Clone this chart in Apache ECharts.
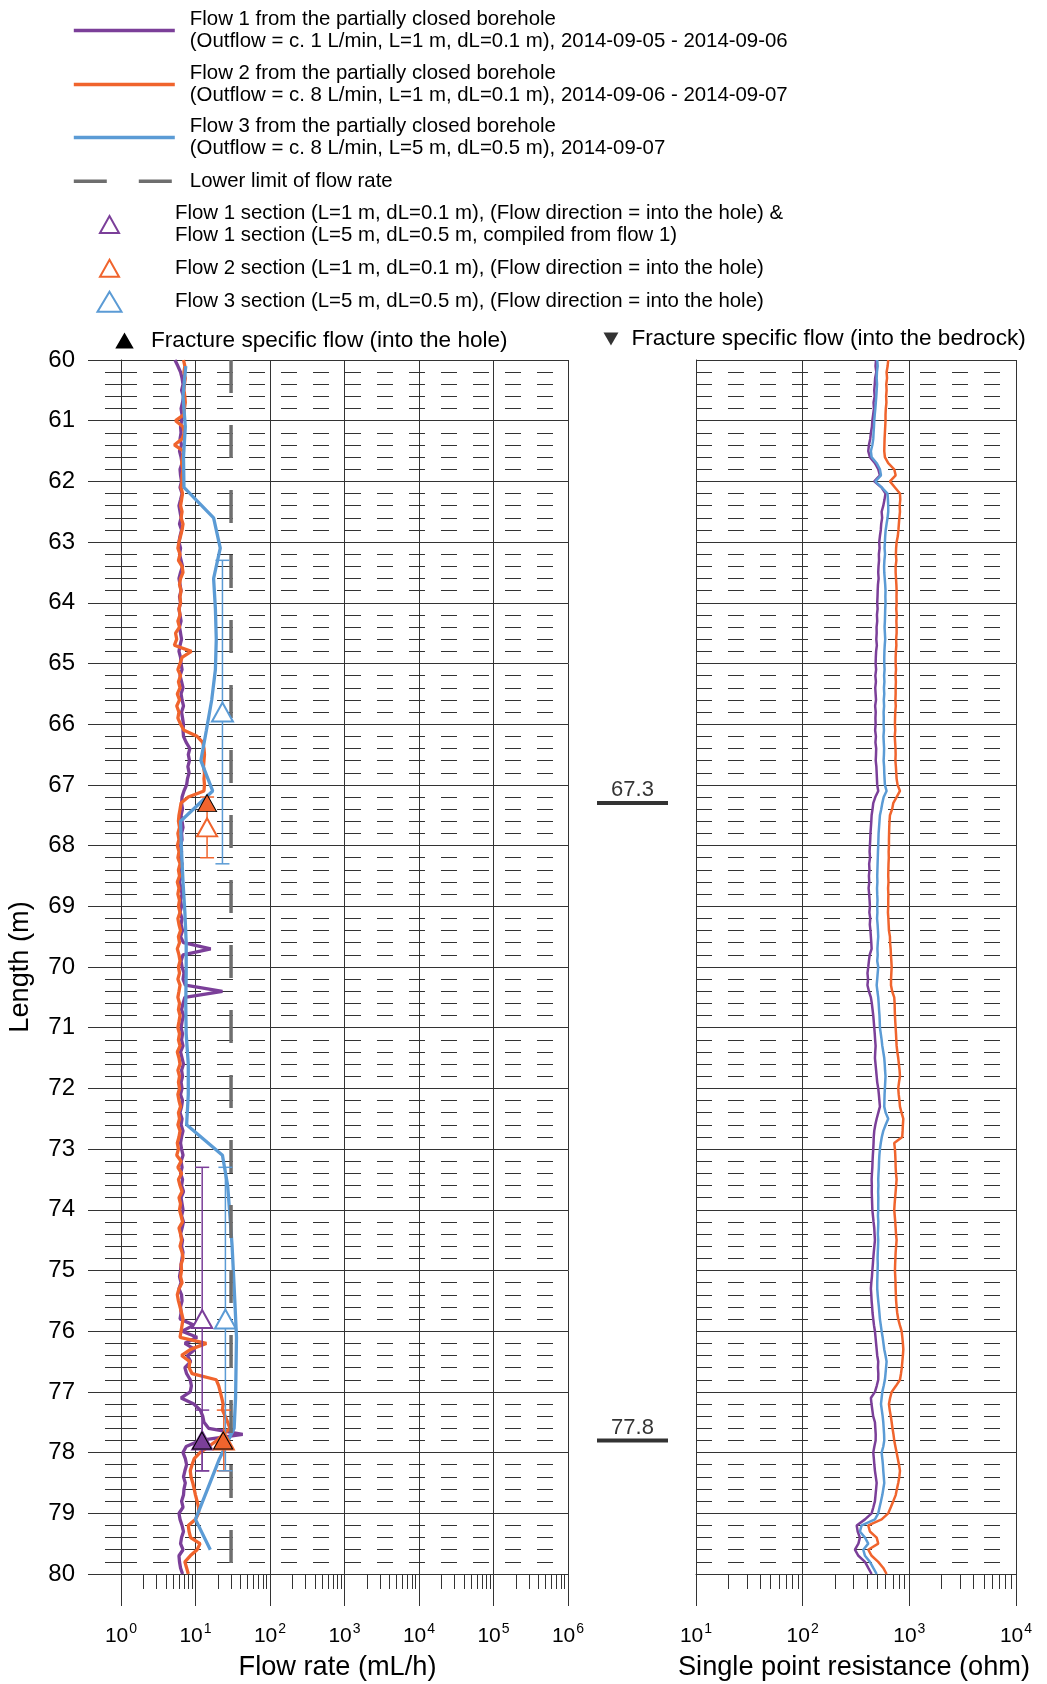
<!DOCTYPE html>
<html><head><meta charset="utf-8">
<script src="https://cdn.jsdelivr.net/npm/echarts@6/dist/echarts.min.js"></script>
<style>html,body{margin:0;padding:0;background:#fff}#c{width:1047px;height:1684px}</style>
</head><body><div id="c"></div>
<script>
const FONT = "'Liberation Sans', Arial, sans-serif";
const AX = '#333333';
const PURPLE = '#7B3F99', ORANGE = '#F0642D', BLUE = '#5B9BD5', GREY = '#6E6E6E';

// ---- depth sampling of the 0.1 m logs (60.0 ... 80.0 m)
const depthFirst = 60.0, depthStepM = 0.1;

// ---- Flow rate (mL/h), flow 1 (purple), every 0.1 m from 60.0 m
const flow1 = [
 5.3,5.8,6.3,6.6,6.8,6.5,6.9,6.7,6.4,6.6,
 6.5,6.3,6.4,6.2,6.5,6.1,6.4,6.6,6.2,6.3,
 6.5,6.2,6.6,6.3,6.0,6.2,6.4,6.1,6.5,6.2,
 6.0,6.3,6.1,6.4,6.7,6.3,6.0,6.2,6.4,6.1,
 6.3,6.0,6.2,6.4,6.1,6.3,6.5,6.2,6.0,6.3,
 6.4,6.6,6.2,6.5,6.8,6.4,6.6,6.9,6.5,6.7,
 6.9,6.8,6.9,7.5,8.4,8.0,8.3,7.9,8.2,7.8,
 7.6,7.0,6.6,6.5,6.7,6.4,6.6,6.8,6.5,6.6,
 6.3,6.5,6.2,6.6,6.3,6.5,6.1,6.4,6.6,6.3,
 6.5,6.2,6.6,6.4,6.7,6.3,6.9,16.0,6.8,6.4,
 6.6,7.0,6.8,7.3,23.0,7.2,6.8,6.5,6.9,6.6,
 6.4,6.7,6.5,6.8,6.3,6.6,6.9,6.5,6.7,6.4,
 6.6,6.3,6.7,6.5,6.2,6.6,6.4,6.8,6.5,6.3,
 6.5,6.8,6.4,6.6,6.3,6.7,6.5,6.9,6.4,6.6,
 6.8,6.5,6.9,6.6,6.3,6.7,6.5,6.8,6.6,6.4,
 6.3,6.1,6.4,6.0,6.5,6.6,6.3,6.4,6.2,9.5,
 6.6,10.5,7.2,9.8,7.8,8.6,7.2,7.6,8.5,8.8,
 8.5,6.4,9.5,11.6,12.5,13.0,15.0,43.0,11.5,7.5,
 6.8,7.3,7.6,7.2,6.9,7.3,7.0,6.9,6.5,6.8,
 6.0,6.2,6.6,6.9,6.5,6.3,6.8,6.0,6.1,6.3,
 6.7
];
// ---- flow 2 (orange), every 0.1 m from 60.0 m
const flow2 = [
 6.9,7.2,7.0,7.3,7.1,7.0,7.2,7.3,7.1,7.0,
 5.4,6.8,7.1,6.6,5.2,6.9,6.7,6.5,6.8,6.6,
 6.6,6.4,6.7,6.5,6.3,6.6,6.4,6.8,6.6,6.3,
 6.0,5.8,6.2,5.9,6.6,6.8,6.3,6.1,6.4,6.2,
 6.3,6.0,6.2,5.8,6.1,5.4,5.6,5.2,8.8,6.6,
 6.2,5.8,6.3,5.9,6.2,5.7,6.1,5.6,6.0,5.8,
 6.3,7.0,10.5,12.5,13.0,13.2,13.0,12.8,13.2,13.0,
 13.2,13.0,8.0,6.4,6.2,6.0,5.9,6.1,5.8,6.0,
 5.7,6.0,5.8,6.2,5.9,6.1,5.7,6.0,5.8,6.1,
 5.9,6.2,5.8,6.0,6.3,5.9,6.1,5.7,6.0,6.2,
 5.9,6.1,5.8,6.2,6.0,5.8,6.1,5.9,6.2,6.0,
 5.8,6.1,5.9,6.2,5.7,6.0,6.2,5.8,6.1,5.9,
 6.1,5.8,6.0,6.3,5.9,6.1,5.8,6.2,6.0,5.7,
 5.9,5.6,6.4,5.8,6.5,5.9,6.2,6.6,6.0,6.3,
 6.1,6.4,6.7,6.0,6.3,6.5,6.2,6.6,6.8,6.4,
 6.5,6.3,6.6,6.0,5.7,5.9,6.2,6.5,6.8,6.6,
 6.4,6.2,14.0,8.6,6.5,8.4,8.2,9.0,19.0,20.5,
 21.5,22.5,23.5,23.0,25.0,27.0,29.0,23.5,19.5,15.0,
 11.5,9.6,9.0,8.5,8.7,9.2,9.6,10.0,10.5,11.0,
 11.0,10.0,8.0,8.2,8.6,11.5,10.5,8.5,7.2,7.6,
 8.0
];
// ---- flow 3 (blue), 5 m section, dL = 0.5 m
const flow3Depths = [60.1,60.6,61.1,61.6,62.1,62.6,63.1,63.6,64.1,64.6,65.1,65.6,66.1,66.6,67.1,67.6,68.1,68.6,69.1,69.6,
 70.1,70.6,71.1,71.6,72.1,72.6,73.1,73.6,74.1,74.6,75.1,75.6,76.1,76.6,77.1,77.6,78.1,78.6,79.1,79.6];
const flow3 = [7.4,6.8,7.3,6.9,7.0,17.5,21.5,17.5,18.5,19.0,18.5,16.5,14.0,11.8,17.0,6.3,6.5,6.8,7.2,7.5,
 7.5,7.4,7.5,8.0,8.0,7.6,23.0,27.0,29.0,31.0,32.5,34.0,35.5,35.0,34.5,33.0,21.0,14.5,10.0,15.8];
const lowerLimitFlow = 30;
const lowerLimitDepths = [60, 80];

// ---- section flows [flow mL/h, depth of marker, section top, section bottom]
const flow1Sections = [[12.3, 75.8, 73.3, 78.3], [12.3, 77.8, 77.3, 78.3]];
const flow2Sections = [[14.3, 67.7, 67.2, 68.2], [24.0, 77.8, 77.3, 78.3]];
const flow3Sections = [[23.0, 65.8, 63.3, 68.3], [25.2, 75.8, 73.3, 78.3]];
// ---- fracture specific flow into the hole [flow, depth]
const fractureFlow2 = [[14.3, 67.3], [23.5, 77.8]];
const fractureFlow1 = [[12.2, 77.8]];
const fractureDepths = [67.3, 77.8];

// ---- single point resistance (ohm), every 0.1 m from 60.0 m
const spr1 = [
 487,482,490,478,474,469,473,462,466,458,
 450,446,436,430,418,412,427,476,511,530,
 469,550,598,585,570,550,556,545,540,530,
 522,526,518,520,514,511,515,508,505,503,
 500,504,497,500,493,494,490,496,488,485,
 483,488,480,486,479,483,487,478,484,481,
 483,478,486,481,489,487,484,491,494,497,
 500,511,480,459,452,443,440,436,432,430,
 427,424,428,420,423,418,421,415,420,424,
 427,422,430,426,432,436,440,443,425,418,
 412,405,410,405,418,436,445,452,459,464,
 469,474,478,483,479,476,482,488,494,500,
 511,518,524,530,512,494,480,469,464,462,
 459,455,452,450,446,443,445,444,446,448,
 450,456,462,469,472,476,470,464,459,455,
 450,446,440,436,440,443,448,452,459,466,
 476,482,488,494,500,511,508,512,511,495,
 476,436,442,450,458,476,480,484,483,470,
 459,465,470,476,485,494,488,482,476,460,
 443,384,321,328,344,333,309,333,384,412,
 443
];
const spr2 = [
 634,626,612,618,608,612,606,610,602,598,
 598,594,590,586,584,582,590,634,722,744,
 658,733,817,822,812,817,806,798,790,780,
 760,752,748,756,744,744,750,756,760,758,
 760,754,762,756,760,760,752,756,748,744,
 744,750,742,748,744,744,740,746,738,735,
 733,738,730,736,742,744,740,748,754,760,
 776,817,760,707,690,658,652,648,646,644,
 644,640,642,638,636,634,638,632,636,634,
 634,630,636,640,644,658,660,668,672,678,
 683,678,674,673,690,722,728,730,733,738,
 744,750,755,760,772,787,798,810,817,800,
 787,795,808,817,845,878,870,865,858,722,
 733,738,742,744,750,760,752,744,736,728,
 722,730,738,744,750,760,752,744,740,736,
 733,738,742,744,748,752,760,770,787,815,
 847,860,870,878,870,860,850,835,817,750,
 683,660,644,655,670,683,695,710,722,740,
 760,780,800,817,805,787,765,745,707,670,
 634,550,412,427,494,511,412,443,511,570,
 612
];
const spr3 = [
 500,505,497,494,498,494,490,485,480,474,
 469,466,462,459,450,436,443,494,530,542,
 480,550,625,630,634,634,625,612,600,594,
 590,586,592,584,580,582,588,594,598,596,
 598,594,592,590,586,590,594,588,584,582,
 582,586,580,584,578,582,576,580,574,576,
 574,578,572,576,580,578,574,580,582,586,
 590,612,575,558,545,530,525,520,515,513,
 511,508,506,504,502,500,502,498,500,503,
 500,502,498,504,508,511,506,502,505,500,
 511,505,500,494,502,511,516,520,525,528,
 530,540,550,558,570,582,588,592,598,594,
 590,586,584,582,600,634,600,570,552,540,
 530,524,520,518,514,511,513,510,512,511,
 511,508,512,510,507,511,509,506,504,506,
 504,502,500,500,505,511,518,524,530,540,
 550,562,572,582,598,612,605,598,590,575,
 558,550,542,552,562,570,575,580,582,570,
 550,558,565,570,576,582,570,558,542,526,
 511,476,357,344,384,412,370,384,427,459,
 494
];

// ---- axis ticks
const flowMajorTicks = [1, 10, 100, 1000, 10000, 100000, 1000000];
const flowMinorTicks = [2,3,4,5,6,7,8,9, 20,30,40,50,60,70,80,90, 200,300,400,500,600,700,800,900,
 2000,3000,4000,5000,6000,7000,8000,9000, 20000,30000,40000,50000,60000,70000,80000,90000,
 200000,300000,400000,500000,600000,700000,800000,900000];
const resMajorTicks = [10, 100, 1000, 10000];
const resMinorTicks = [20,30,40,50,60,70,80,90, 200,300,400,500,600,700,800,900, 2000,3000,4000,5000,6000,7000,8000,9000];
const depthMin = 60, depthMax = 80, depthInterval = 1;

// ---- texts
const legendLabels = {
  f1: 'Flow 1 from the partially closed borehole\n(Outflow = c. 1 L/min, L=1 m, dL=0.1 m), 2014-09-05 - 2014-09-06',
  f2: 'Flow 2 from the partially closed borehole\n(Outflow = c. 8 L/min, L=1 m, dL=0.1 m), 2014-09-06 - 2014-09-07',
  f3: 'Flow 3 from the partially closed borehole\n(Outflow = c. 8 L/min, L=5 m, dL=0.5 m), 2014-09-07',
  ll: 'Lower limit of flow rate',
  s1: 'Flow 1 section (L=1 m, dL=0.1 m), (Flow direction = into the hole) &\nFlow 1 section (L=5 m, dL=0.5 m, compiled from flow 1)',
  s2: 'Flow 2 section (L=1 m, dL=0.1 m), (Flow direction = into the hole)',
  s3: 'Flow 3 section (L=5 m, dL=0.5 m), (Flow direction = into the hole)',
  fh: 'Fracture specific flow (into the hole)',
  fb: 'Fracture specific flow (into the bedrock)'
};
const axisTitles = { flow: 'Flow rate (mL/h)', res: 'Single point resistance (ohm)', depth: 'Length (m)' };

// ---- build
const depths = flow1.map((_, i) => +(depthFirst + i * depthStepM).toFixed(1));
const pairs = (vals, ds) => vals.map((v, i) => [v, ds[i]]);

const chart = echarts.init(document.getElementById('c'), null, {renderer: 'canvas'});

const supLabel = {
  formatter: v => '{b|10}{s|' + Math.round(Math.log10(v)) + '}',
  rich: {
    b: {fontSize: 21, fontFamily: FONT, color: '#000', lineHeight: 29},
    s: {fontSize: 14, fontFamily: FONT, color: '#000', verticalAlign: 'top', padding: [0, 0, 0, 1]}
  }
};

function majorXAxis(gridIndex, min, max, ticks, name, namePad) {
  return {
    type: 'log', logBase: 10, gridIndex, min, max, position: 'bottom',
    axisLine: {show: true, onZero: false, lineStyle: {color: AX, width: 1}},
    axisTick: {show: true, customValues: ticks, length: 32, lineStyle: {color: AX, width: 1}},
    axisLabel: Object.assign({show: true, customValues: ticks, margin: 48}, supLabel),
    splitLine: {show: true, lineStyle: {color: AX, width: 1}},
    minorTick: {show: false}, minorSplitLine: {show: false},
    name, nameLocation: 'middle', nameGap: 79,
    nameTextStyle: {fontSize: 27.2, fontFamily: FONT, color: '#000', lineHeight: 30, padding: namePad}
  };
}
function minorXAxis(gridIndex, min, max, ticks) {
  return {
    type: 'log', logBase: 10, gridIndex, min, max, position: 'bottom',
    axisLine: {show: false},
    axisTick: {show: true, customValues: ticks, length: 15, lineStyle: {color: AX, width: 1}},
    axisLabel: {show: false}, splitLine: {show: false}
  };
}
function depthAxis(gridIndex, opts) {
  return Object.assign({
    type: 'value', gridIndex, inverse: true, min: depthMin, max: depthMax, interval: depthInterval,
    axisLine: {show: false}, axisTick: {show: false}, axisLabel: {show: false},
    splitLine: {show: false}, minorTick: {show: false}, minorSplitLine: {show: false}
  }, opts);
}
const dashedMinor = {show: true, lineStyle: {color: AX, width: 1, type: [16, 16]}};

function errorBars(name, secs, color) {
  return {
    type: 'custom', name, xAxisIndex: 0, yAxisIndex: 0, z: 4, silent: true,
    data: secs.map(s => [s[0], s[2], s[3]]),
    encode: {x: 0, y: [1, 2]},
    renderItem: (params, api) => {
      const x = api.value(0);
      const p1 = api.coord([x, api.value(1)]);
      const p2 = api.coord([x, api.value(2)]);
      const hw = 7;
      const style = {stroke: color, lineWidth: 1.5, fill: null};
      return {type: 'group', children: [
        {type: 'line', shape: {x1: p1[0], y1: p1[1], x2: p2[0], y2: p2[1]}, style},
        {type: 'line', shape: {x1: p1[0] - hw, y1: p1[1], x2: p1[0] + hw, y2: p1[1]}, style},
        {type: 'line', shape: {x1: p2[0] - hw, y1: p2[1], x2: p2[0] + hw, y2: p2[1]}, style}
      ]};
    }
  };
}
function sectionSeries(name, secs, color, size) {
  return {
    type: 'scatter', name, xAxisIndex: 0, yAxisIndex: 0, z: 5,
    symbol: 'triangle', symbolSize: size,
    itemStyle: {color: '#fff', borderColor: color, borderWidth: 2, opacity: 1},
    data: secs.map(s => [s[0], s[1]])
  };
}
function flowLine(name, data, color) {
  return {type: 'line', name, xAxisIndex: 0, yAxisIndex: 0, data, symbol: 'none', z: 3,
    lineStyle: {color, width: 3.3}, itemStyle: {color}};
}
function sprLine(name, data, color) {
  return {type: 'line', name, xAxisIndex: 2, yAxisIndex: 2, data, symbol: 'none', z: 3,
    lineStyle: {color, width: 2.5}, itemStyle: {color}};
}
const LEG_FS = 20.4;
function lg(key, left, top, o) {
  return Object.assign({
    data: [key], left, top, orient: 'vertical', padding: 0, itemGap: 0, selectedMode: false,
    formatter: n => legendLabels[n],
    itemWidth: 101, itemHeight: 14,
    textStyle: {fontFamily: FONT, fontSize: LEG_FS, color: '#000', lineHeight: 22.5, padding: [0, 0, 0, 10]}
  }, o || {});
}
// line legends: hide the marker that ECharts puts in the middle of a line icon
const lineLegendExtra = {
  itemStyle: {color: 'transparent', borderColor: 'transparent', borderWidth: 0, opacity: 0},
  lineStyle: {width: 3.6}
};
const triText = pad => ({textStyle: {fontFamily: FONT, fontSize: LEG_FS, color: '#000', lineHeight: 22.5, padding: [0, 0, 0, pad]}});
const gridBox = (left, width) => ({left, top: 360, width, height: 1214, outerBoundsMode: 'none', containLabel: false});

const option = {
  animation: false,
  backgroundColor: '#fff',
  textStyle: {fontFamily: FONT},
  grid: [
    gridBox(121, 447),
    gridBox(121, 447),
    gridBox(696, 320),
    gridBox(696, 320),
    gridBox(597, 71)
  ],
  xAxis: [
    majorXAxis(0, 1, 1000000, flowMajorTicks, axisTitles.flow, [0, 14, 0, 0]),
    minorXAxis(1, 1, 1000000, flowMinorTicks),
    majorXAxis(2, 10, 10000, resMajorTicks, axisTitles.res, [0, 4, 0, 0]),
    minorXAxis(3, 10, 10000, resMinorTicks),
    {type: 'value', gridIndex: 4, min: 0, max: 1, show: false}
  ],
  yAxis: [
    depthAxis(0, {
      axisLine: {show: true, onZero: false, lineStyle: {color: AX, width: 1}},
      axisTick: {show: true, length: 33, lineStyle: {color: AX, width: 1}},
      minorTick: {show: true, splitNumber: 5, length: 16, lineStyle: {color: AX, width: 1}},
      axisLabel: {show: true, margin: 46, fontSize: 24, color: '#000', fontFamily: FONT},
      splitLine: {show: true, lineStyle: {color: AX, width: 1}},
      minorSplitLine: dashedMinor,
      name: axisTitles.depth, nameLocation: 'middle', nameGap: 85, nameRotate: 90,
      nameTextStyle: {fontSize: 27.2, fontFamily: FONT, color: '#000', lineHeight: 30}
    }),
    depthAxis(1),
    depthAxis(2, {
      axisLine: {show: true, onZero: false, lineStyle: {color: AX, width: 1}},
      splitLine: {show: true, lineStyle: {color: AX, width: 1}},
      minorSplitLine: dashedMinor,
      minorTick: {show: false, splitNumber: 5}
    }),
    depthAxis(3),
    depthAxis(4)
  ],
  legend: [
    lg('f1', 72, 8, lineLegendExtra),
    lg('f2', 72, 62, lineLegendExtra),
    lg('f3', 72, 115, lineLegendExtra),
    lg('ll', 72, 170, lineLegendExtra),
    lg('s1', 99, 202, Object.assign({itemWidth: 19, itemHeight: 17}, triText(51))),
    lg('s2', 99, 257, Object.assign({itemWidth: 19, itemHeight: 17}, triText(51))),
    lg('s3', 96.5, 290.5, Object.assign({itemWidth: 24, itemHeight: 20}, triText(48.5))),
    lg('fh', 116, 328, {itemWidth: 15, itemHeight: 13,
      textStyle: {fontFamily: FONT, fontSize: 22.6, color: '#000', lineHeight: 26, padding: [0, 0, 0, 14]}}),
    lg('fb', 603.5, 326, {itemWidth: 15, itemHeight: 13,
      data: [{name: 'fb', icon: 'path://M0,0L10,0L5,8.7Z'}],
      textStyle: {fontFamily: FONT, fontSize: 22.6, color: '#000', lineHeight: 26, padding: [0, 0, 0, 8]}})
  ],
  series: [
    flowLine('f1', pairs(flow1, depths), PURPLE),
    flowLine('f2', pairs(flow2, depths), ORANGE),
    flowLine('f3', pairs(flow3, flow3Depths), BLUE),
    {type: 'line', name: 'll', xAxisIndex: 0, yAxisIndex: 0, symbol: 'none', z: 3,
      data: lowerLimitDepths.map(d => [lowerLimitFlow, d]),
      lineStyle: {color: GREY, width: 3.5, type: [33, 32]}, itemStyle: {color: GREY}},
    errorBars('e1', flow1Sections, PURPLE),
    errorBars('e2', flow2Sections, ORANGE),
    errorBars('e3', flow3Sections, BLUE),
    sectionSeries('s1', flow1Sections, PURPLE, [20, 18]),
    sectionSeries('s2', flow2Sections, ORANGE, [20, 18]),
    sectionSeries('s3', flow3Sections, BLUE, [21, 19]),
    {type: 'scatter', name: 'fh', xAxisIndex: 0, yAxisIndex: 0, z: 6,
      symbol: 'triangle', symbolSize: [19, 17],
      itemStyle: {color: '#000', borderColor: '#000', borderWidth: 1, opacity: 1},
      data: fractureFlow2.map(p => ({value: p, itemStyle: {color: ORANGE}}))
        .concat(fractureFlow1.map(p => ({value: p, itemStyle: {color: PURPLE}})))},
    {type: 'scatter', name: 'fb', xAxisIndex: 0, yAxisIndex: 0, z: 6,
      symbol: 'triangle', symbolRotate: 180, symbolSize: [15, 13],
      itemStyle: {color: '#000'}, data: []},
    sprLine('r1', pairs(spr1, depths), PURPLE),
    sprLine('r2', pairs(spr2, depths), ORANGE),
    sprLine('r3', pairs(spr3, depths), BLUE),
    {type: 'scatter', name: 'marks', xAxisIndex: 4, yAxisIndex: 4, z: 5,
      symbol: 'rect', symbolSize: [71, 4], itemStyle: {color: '#000'},
      data: fractureDepths.map(d => [0.5, d]),
      label: {show: true, position: 'top', distance: 0, fontSize: 22, fontFamily: FONT, color: '#000',
        formatter: p => p.value[1].toFixed(1)}}
  ]
};
chart.setOption(option);
</script>
</body></html>
